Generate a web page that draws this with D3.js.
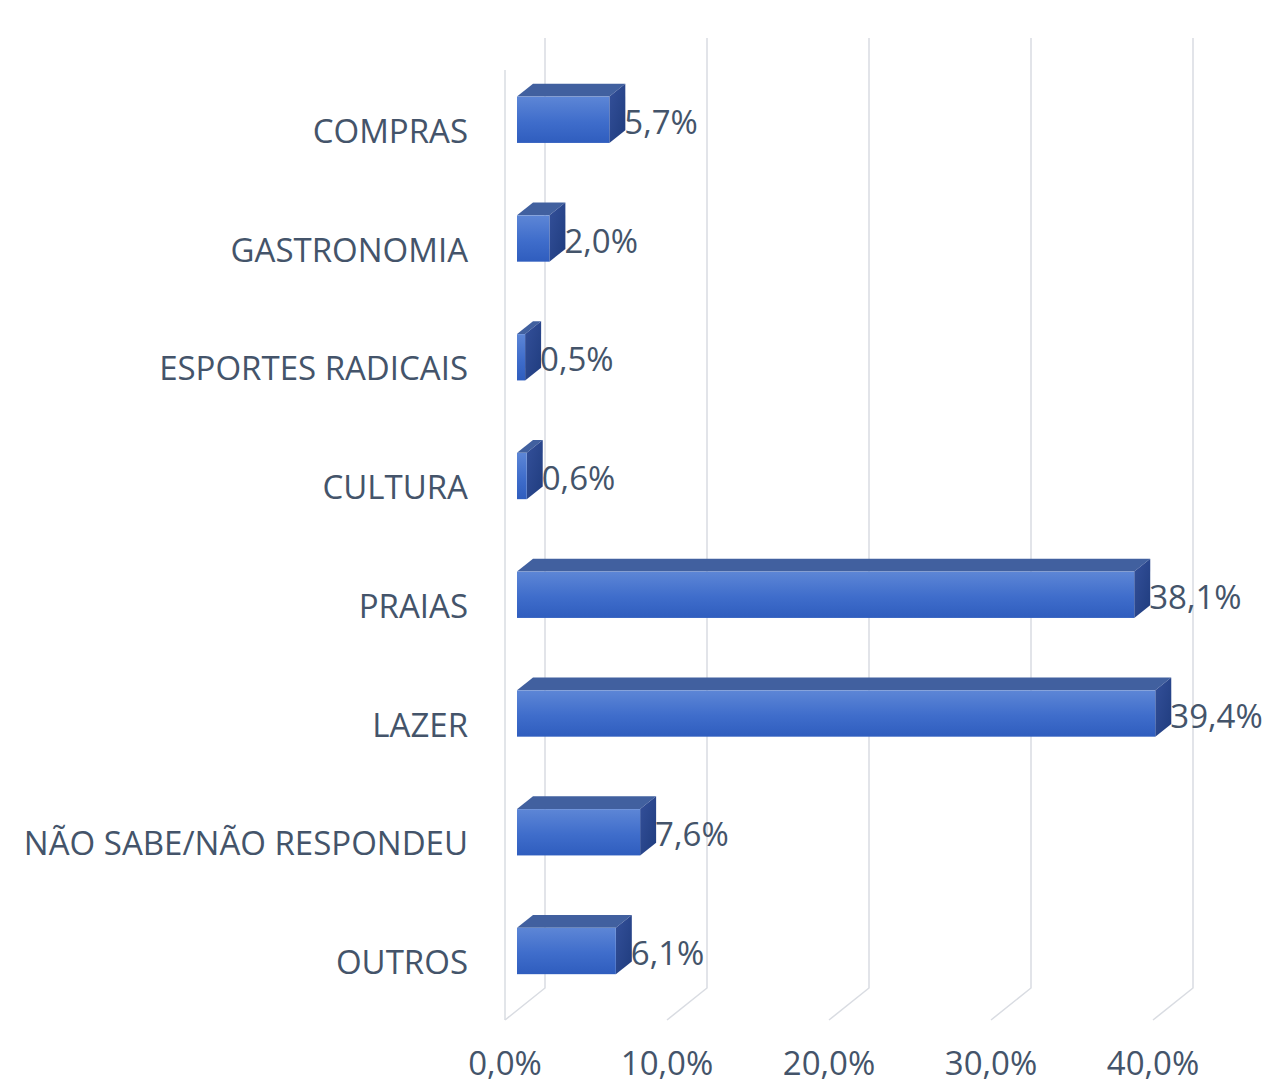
<!DOCTYPE html>
<html>
<head>
<meta charset="utf-8">
<script src="https://cdn.jsdelivr.net/npm/d3@7"></script>
<style>
  body { margin: 0; background: #fff; }
  text { font-family: "Open Sans", sans-serif; fill: #44546A; }
</style>
</head>
<body>
<script>
(function() {

    // Data
    var categories = ['COMPRAS', 'GASTRONOMIA', 'ESPORTES RADICAIS', 'CULTURA',
                      'PRAIAS', 'LAZER', 'NÃO SABE/NÃO RESPONDEU', 'OUTROS'];
    var values = [5.7, 2.0, 0.5, 0.6, 38.1, 39.4, 7.6, 6.1];
    var ticks = [0, 10, 20, 30, 40];
    var tickLabels = ['0,0%', '10,0%', '20,0%', '30,0%', '40,0%'];
    var valueLabels = ['5,7%', '2,0%', '0,5%', '0,6%', '38,1%', '39,4%', '7,6%', '6,1%'];

    var width = 1266, height = 1088;
    var fontSize = '33px';

    // Depth of the 3D box (front plane -> back plane)
    var depth = {dx: 40, dy: -32};
    var barFront = 0.3, barBack = 0.7;

    // Scales in front plane
    var x = d3.scaleLinear().domain([0, 40]).range([505, 1153]);
    var y = d3.scaleBand().domain(categories).range([70, 1020])
        .paddingInner(0.61).paddingOuter(0.305);

    function off(d) { return [depth.dx * d, depth.dy * d]; }

    var svg = d3.select('body').append('svg')
        .attr('width', width)
        .attr('height', height);

    var defs = svg.append('defs');
    var gFront = defs.append('linearGradient').attr('id', 'gFront')
        .attr('x1', 0).attr('y1', 0).attr('x2', 0).attr('y2', 1);
    gFront.append('stop').attr('offset', '0%').attr('stop-color', '#5D86D6');
    gFront.append('stop').attr('offset', '55%').attr('stop-color', '#3F6DCB');
    gFront.append('stop').attr('offset', '100%').attr('stop-color', '#2F5DBE');
    var gSide = defs.append('linearGradient').attr('id', 'gSide')
        .attr('x1', 0).attr('y1', 0).attr('x2', 1).attr('y2', 1);
    gSide.append('stop').attr('offset', '0%').attr('stop-color', '#34509A');
    gSide.append('stop').attr('offset', '100%').attr('stop-color', '#1F3C7E');

    var grid = svg.append('g')
        .attr('fill', 'none')
        .attr('stroke', '#D9DCE2')
        .attr('stroke-width', 1.5);

    var top = y.range()[0], bottom = y.range()[1];

    // left wall front edge
    grid.append('line')
        .attr('x1', x(0)).attr('x2', x(0))
        .attr('y1', top).attr('y2', bottom);

    // back wall gridlines + floor lines
    ticks.forEach(function(t) {
        var b = off(1);
        grid.append('path')
            .attr('d', d3.line()([
                [x(t) + b[0], top + b[1]],
                [x(t) + b[0], bottom + b[1]],
                [x(t), bottom]
            ]));
    });

    // Bars
    var bars = svg.append('g');
    categories.forEach(function(c, i) {
        var v = values[i];
        var f = off(barFront), k = off(barBack);
        var x0 = x(0) + f[0], x1 = x(v) + f[0];
        var y0 = y(c) + f[1], y1 = y(c) + y.bandwidth() + f[1];
        var dx = k[0] - f[0], dy = k[1] - f[1];

        // top face
        bars.append('path')
            .attr('d', d3.line()([[x0, y0], [x0 + dx, y0 + dy], [x1 + dx, y0 + dy], [x1, y0]]) + 'Z')
            .attr('fill', '#41609F');
        // side face
        bars.append('path')
            .attr('d', d3.line()([[x1, y0], [x1 + dx, y0 + dy], [x1 + dx, y1 + dy], [x1, y1]]) + 'Z')
            .attr('fill', 'url(#gSide)');
        // front face
        bars.append('rect')
            .attr('x', x0).attr('y', y0)
            .attr('width', x1 - x0).attr('height', y1 - y0)
            .attr('fill', 'url(#gFront)');

        // value label
        bars.append('text')
            .attr('x', x1 + dx - 1)
            .attr('y', y(c) + y.bandwidth() / 2 - 7)
            .attr('dy', '0.35em')
            .style('font-size', fontSize)
            .text(valueLabels[i]);
    });

    // Category labels
    svg.append('g').selectAll('text')
        .data(categories)
        .enter().append('text')
        .attr('x', 468)
        .attr('y', function(d) { return y(d) + y.bandwidth() / 2 + 2; })
        .attr('dy', '0.35em')
        .attr('text-anchor', 'end')
        .style('font-size', fontSize)
        .text(function(d) { return d; });

    // X tick labels
    svg.append('g').selectAll('text')
        .data(ticks)
        .enter().append('text')
        .attr('x', function(d) { return x(d); })
        .attr('y', 1063)
        .attr('dy', '0.35em')
        .attr('text-anchor', 'middle')
        .style('font-size', fontSize)
        .text(function(d, i) { return tickLabels[i]; });

})();
</script>
</body>
</html>
